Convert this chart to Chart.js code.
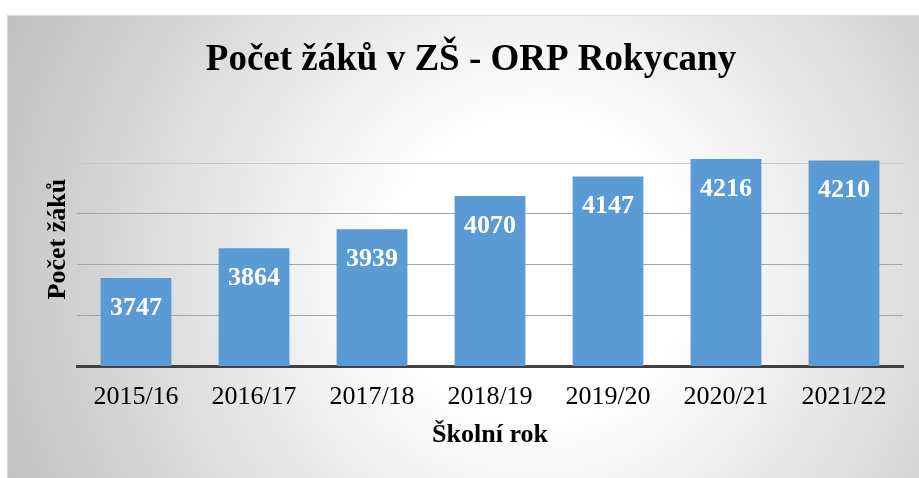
<!DOCTYPE html>
<html><head><meta charset="utf-8">
<script src="https://cdn.jsdelivr.net/npm/chart.js@4.4.1/dist/chart.umd.min.js"></script>
<style>
html,body{margin:0;padding:0;background:#fff;width:919px;height:478px;overflow:hidden}
#frame{position:absolute;left:7px;top:15px;width:911px;height:462px;border-top:1px solid #dcdcdc;border-left:1px solid #dcdcdc;background:radial-gradient(circle 600px at 58% 55%, #ffffff 0%, #ffffff 25%, #bdbdbd 100%)}
#wrap{position:absolute;left:0;top:0;width:911px;height:462px}
</style></head><body>
<div id="frame"><div id="wrap"><canvas id="c"></canvas></div></div>
<script>
const categories = ['2015/16','2016/17','2017/18','2018/19','2019/20','2020/21','2021/22'];
const pupils = [3747, 3864, 3939, 4070, 4147, 4216, 4210];
const yMin = 3400, yMax = 4400, yStep = 200;
const chartTitle = 'Počet žáků v ZŠ - ORP Rokycany';
const xTitle = 'Školní rok';
const yTitle = 'Počet žáků';

const SERIF = "'Liberation Serif','Times New Roman',serif";

const labelPlugin = {
  id: 'labels',
  afterDatasetsDraw(chart) {
    const ctx = chart.ctx;
    const meta = chart.getDatasetMeta(0);
    ctx.save();
    ctx.font = 'bold 26px ' + SERIF;
    ctx.fillStyle = '#ffffff';
    ctx.textAlign = 'center';
    ctx.textBaseline = 'alphabetic';
    meta.data.forEach((bar, i) => {
      ctx.fillText(String(pupils[i]), bar.x, bar.y + 36.6);
    });
    ctx.restore();
  },
  afterDraw(chart) {
    const ctx = chart.ctx;
    ctx.save();
    ctx.font = 'bold 37px ' + SERIF;
    ctx.fillStyle = '#000000';
    ctx.textAlign = 'center';
    ctx.textBaseline = 'alphabetic';
    ctx.fillText(chartTitle, 463, 53.5);
    ctx.restore();
  }
};

new Chart(document.getElementById('c'), {
  type: 'bar',
  data: {
    labels: categories,
    datasets: [{
      data: pupils,
      backgroundColor: '#5b9bd5',
      borderWidth: 0,
      barPercentage: 0.6,
      categoryPercentage: 1.0
    }]
  },
  options: {
    responsive: true,
    maintainAspectRatio: false,
    animation: false,
    layout: { padding: { top: 96.25, right: 16, left: 0, bottom: 0 } },
    plugins: { legend: { display: false }, tooltip: { enabled: false }, title: { display: false } },
    scales: {
      x: {
        grid: { display: false, drawTicks: false },
        border: { display: true, color: '#404040', width: 3 },
        ticks: { color: '#000', font: { family: SERIF, size: 26 }, padding: 16, maxRotation: 0, autoSkip: false },
        title: { display: true, text: xTitle, color: '#000', font: { family: SERIF, size: 26, weight: 'bold' }, padding: { top: 0, bottom: 27.4 } },
        afterFit(scale) { scale.height = 112; }
      },
      y: {
        min: yMin, max: yMax,
        ticks: { display: false, stepSize: yStep },
        grid: {
          drawTicks: false,
          lineWidth: 1,
          color: (c) => {
            if (!c.tick || c.tick.value === yMax || c.tick.value === yMin) return 'rgba(0,0,0,0)';
            return c.tick.value === 4200 ? '#c8c8c8' : '#a6a6a6';
          }
        },
        border: { display: false },
        title: { display: true, text: yTitle, color: '#000', font: { family: SERIF, size: 26, weight: 'bold' }, padding: { top: 34.4, bottom: 0 } },
        afterFit(scale) { scale.width = 69; }
      }
    }
  },
  plugins: [labelPlugin]
});
</script>
</body></html>
